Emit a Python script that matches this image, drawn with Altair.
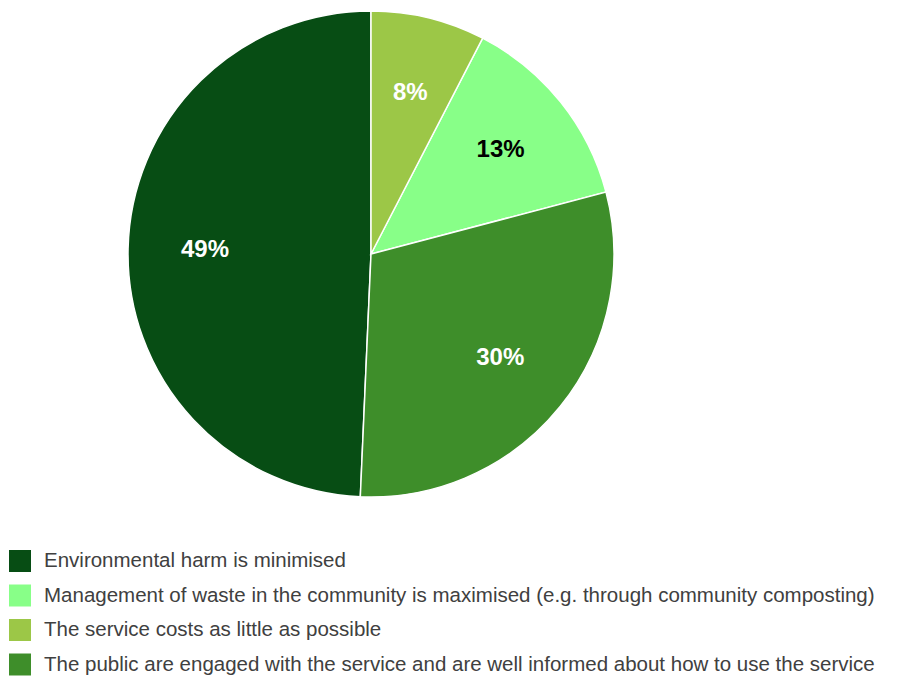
import altair as alt
import pandas as pd

categories = [
    "Environmental harm is minimised",
    "Management of waste in the community is maximised (e.g. through community composting)",
    "The service costs as little as possible",
    "The public are engaged with the service and are well informed about how to use the service",
]
values = [49.3, 13.3, 7.6, 29.8]
labels = ["49%", "13%", "8%", "30%"]
slice_order = [3, 1, 0, 2]
colors = ["#074D14", "#88FF88", "#9CC747", "#3E8E2A"]

df = pd.DataFrame({"category": categories, "value": values, "label": labels, "ord": slice_order})

base = alt.Chart(df).encode(
    theta=alt.Theta("value:Q", stack=True),
    order=alt.Order("ord:Q", sort="ascending"),
)

pie = base.mark_arc(outerRadius=243, stroke="white", strokeWidth=1.5).encode(
    color=alt.Color(
        "category:N",
        scale=alt.Scale(domain=categories, range=colors),
        sort=categories,
        legend=alt.Legend(
            title=None,
            orient="none",
            legendX=1,
            legendY=541,
            symbolType="square",
            symbolSize=484,
            symbolStrokeWidth=0,
            labelFontSize=20.5,
            labelFont="Liberation Sans",
            labelColor="#404040",
            labelOffset=13,
            rowPadding=12.5,
            labelLimit=1000,
        ),
    )
)

text = base.mark_text(radius=166, font="Liberation Sans", fontWeight="bold", fontSize=24).encode(
    text="label:N",
    color=alt.condition(
        alt.datum.category == categories[1], alt.value("black"), alt.value("white")
    ),
)

chart = alt.layer(pie, text).properties(width=726, height=490, padding=0).configure_view(stroke=None)

chart.save("out.html", embed_options={"renderer": "svg", "actions": False})
